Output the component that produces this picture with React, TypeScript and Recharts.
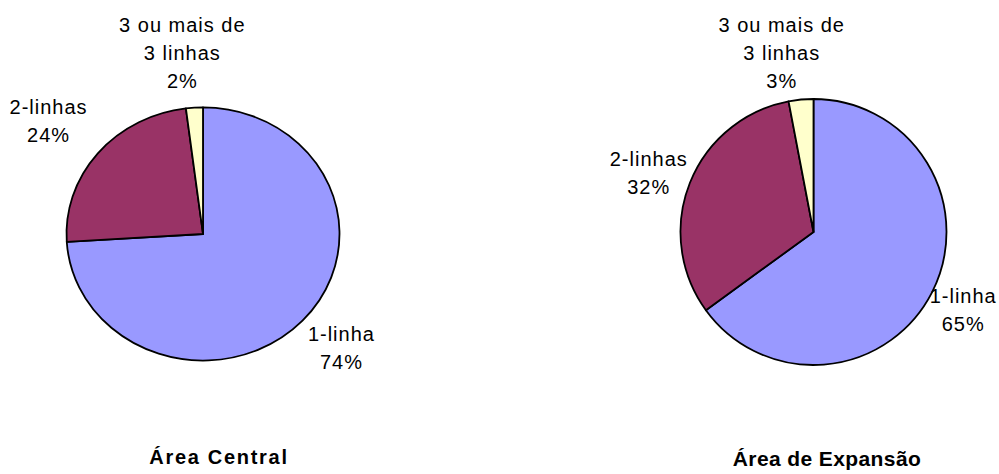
import React from 'react';
import { PieChart, Pie, Cell } from 'recharts';

const categories = ['1-linha', '2-linhas', '3 ou mais de 3 linhas'];
const centralValues = [74, 24, 2];
const expansionValues = [65, 32, 3];
const chartTitles = ['Área Central', 'Área de Expansão'];

const COLORS = ['#9999FF', '#993366', '#FFFFCC'];
const FONT = '"Liberation Sans", Arial, sans-serif';
const FS = 20;
const LINE_H = 28;
const RAD = Math.PI / 180;

// small per-slice label nudges (layout only), like excel's placement
const centralNudge = [[-1, -4], [-3, -3], [-7, 5]];
const expansionNudge = [[-14, -1], [11, 5], [-12, 9]];

const wrap = (s: string, max = 12) => {
  const words = s.split(' ');
  const lines: string[] = [];
  let cur = '';
  words.forEach(w => {
    const next = cur ? cur + ' ' + w : w;
    if (next.length > max && cur) {
      lines.push(cur);
      cur = w;
    } else cur = next;
  });
  if (cur) lines.push(cur);
  return lines;
};

// elliptical sector, recharts gives the angles
const makeShape = (yScale: number) => (props: any) => {
  const { cx, cy, outerRadius, startAngle, endAngle, fill } = props;
  const rx = outerRadius;
  const ry = outerRadius * yScale;
  const x1 = cx + rx * Math.cos(startAngle * RAD);
  const y1 = cy - ry * Math.sin(startAngle * RAD);
  const x2 = cx + rx * Math.cos(endAngle * RAD);
  const y2 = cy - ry * Math.sin(endAngle * RAD);
  const large = Math.abs(startAngle - endAngle) > 180 ? 1 : 0;
  const d = `M${cx},${cy} L${x1},${y1} A${rx},${ry} 0 ${large} 1 ${x2},${y2} Z`;
  return <path d={d} fill={fill} stroke="#000" strokeWidth={1.8} strokeLinejoin="round" />;
};

const makeLabel = (yScale: number, gap: number, nudge: number[][]) => (props: any) => {
  const { cx, cy, outerRadius, midAngle, name, percent, index } = props;
  const lines = [...wrap(name), `${Math.round(percent * 100)}%`];
  const w = Math.max(...lines.map(l => l.length)) * 10.5;
  const h = lines.length * LINE_H;
  const c = Math.cos(midAngle * RAD);
  const s = -Math.sin(midAngle * RAD);
  const bx = cx + (outerRadius + gap) * c + c * w / 2 + nudge[index][0];
  const by = cy + (outerRadius * yScale + gap) * s + s * h / 2 + nudge[index][1];
  return (
    <text x={bx} y={by} textAnchor="middle" fontFamily={FONT} fontSize={FS} letterSpacing={1} fill="#000">
      {lines.map((l, i) => (
        <tspan key={i} x={bx} y={by + (i - (lines.length - 1) / 2) * LINE_H} dominantBaseline="central">
          {l}
        </tspan>
      ))}
    </text>
  );
};

const centralData = categories.map((name, i) => ({ name, value: centralValues[i] }));
const expansionData = categories.map((name, i) => ({ name, value: expansionValues[i] }));

export default function App() {
  return (
    <div style={{ position: 'absolute', left: 0, top: 0, width: 999, height: 474, background: '#fff', overflow: 'hidden' }}>
      <PieChart width={999} height={474} margin={{ top: 0, right: 0, bottom: 0, left: 0 }}>
        <Pie
          data={centralData}
          dataKey="value"
          nameKey="name"
          cx={203}
          cy={234}
          outerRadius={136.5}
          startAngle={90}
          endAngle={-270}
          shape={makeShape(0.927)}
          label={makeLabel(0.927, 18, centralNudge)}
          labelLine={false}
          isAnimationActive={false}
        >
          {centralData.map((_, i) => (
            <Cell key={i} fill={COLORS[i]} />
          ))}
        </Pie>
        <Pie
          data={expansionData}
          dataKey="value"
          nameKey="name"
          cx={813.5}
          cy={232}
          outerRadius={133}
          startAngle={90}
          endAngle={-270}
          shape={makeShape(1)}
          label={makeLabel(1, 14, expansionNudge)}
          labelLine={false}
          isAnimationActive={false}
        >
          {expansionData.map((_, i) => (
            <Cell key={i} fill={COLORS[i]} />
          ))}
        </Pie>
      </PieChart>
      <div style={{ position: 'absolute', left: 119, width: 200, top: 446, textAlign: 'center', fontFamily: FONT, fontWeight: 'bold', fontSize: 20, letterSpacing: 1.7 }}>
        {chartTitles[0]}
      </div>
      <div style={{ position: 'absolute', left: 727, width: 200, top: 447, textAlign: 'center', fontFamily: FONT, fontWeight: 'bold', fontSize: 21, letterSpacing: 0.4 }}>
        {chartTitles[1]}
      </div>
    </div>
  );
}
